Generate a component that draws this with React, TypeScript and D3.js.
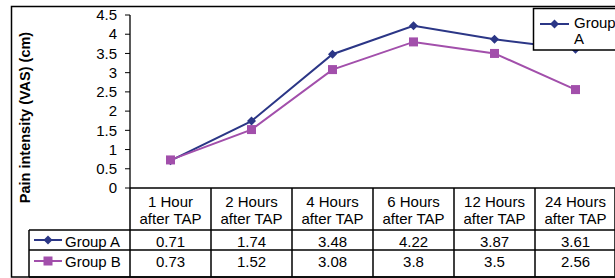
import React from 'react';
import * as d3 from 'd3';

const categories = ['1 Hour|after TAP', '2 Hours|after TAP', '4 Hours|after TAP', '6 Hours|after TAP', '12 Hours|after TAP', '24 Hours|after TAP'];
const groupA = [0.71, 1.74, 3.48, 4.22, 3.87, 3.61];
const groupB = [0.73, 1.52, 3.08, 3.8, 3.5, 2.56];
const groupALabels = ['0.71', '1.74', '3.48', '4.22', '3.87', '3.61'];
const groupBLabels = ['0.73', '1.52', '3.08', '3.8', '3.5', '2.56'];
const yTicks = [0, 0.5, 1, 1.5, 2, 2.5, 3, 3.5, 4, 4.5];

const colorA = '#2B3686';
const colorB = '#A24FAB';
const font = 'Liberation Sans, Arial, sans-serif';
const fs = 15;

const series = [
  { name: 'Group A', values: groupA, labels: groupALabels, color: colorA, shape: 'diamond' },
  { name: 'Group B', values: groupB, labels: groupBLabels, color: colorB, shape: 'square' },
];

function Marker({ x, y, shape, color }: { x: number; y: number; shape: string; color: string }) {
  if (shape === 'diamond') {
    const s = 4.5;
    return <path d={`M${x},${y - s}L${x + s},${y}L${x},${y + s}L${x - s},${y}Z`} fill={color} />;
  }
  return <rect x={x - 4.5} y={y - 4.5} width={9} height={9} fill={color} />;
}

export default function App() {
  const W = 615;
  const H = 278;
  const left = 130;
  const right = 616;
  const top = 15;
  const axisY = 188;
  const headerBottom = 230;
  const rowA = 250;
  const rowB = 277;
  const labelLeft = 29;

  const x = d3.scaleBand().domain(categories).range([left, right]).padding(0);
  const y = d3.scaleLinear().domain([0, 4.5]).range([axisY, top]);
  const cx = (c: string) => (x(c) || 0) + x.bandwidth() / 2;

  const line = d3
    .line<number>()
    .x((_, i) => cx(categories[i]))
    .y((d) => y(d));

  return (
    <svg width={W} height={H} style={{ position: 'absolute', left: 0, top: 0 }} fontFamily={font}>
      <rect x={0} y={0} width={W} height={H} fill="#fff" />
      <rect x={11.5} y={6.5} width={620} height={270.5} fill="none" stroke="#000" strokeWidth={1.5} />

      {/* y axis */}
      <line x1={left} x2={left} y1={top} y2={axisY} stroke="#000" strokeWidth={1.3} />
      {yTicks.map((t) => (
        <g key={t}>
          <line x1={left - 5} x2={left} y1={y(t)} y2={y(t)} stroke="#000" strokeWidth={1} />
          <text x={117} y={y(t)} dy="0.35em" textAnchor="end" fontSize={fs}>
            {t}
          </text>
        </g>
      ))}
      <text
        transform="translate(30,117.5) rotate(-90)"
        textAnchor="middle"
        fontSize={14.5}
        fontWeight="bold"
      >
        Pain intensity (VAS) (cm)
      </text>

      {/* series lines */}
      {series.map((s) => (
        <g key={s.name}>
          <path d={line(s.values) || ''} fill="none" stroke={s.color} strokeWidth={2} />
          {s.values.map((v, i) => (
            <Marker key={i} x={cx(categories[i])} y={y(v)} shape={s.shape} color={s.color} />
          ))}
        </g>
      ))}

      {/* data table */}
      <g stroke="#000" strokeWidth={1.5}>
        <line x1={left} x2={right} y1={axisY} y2={axisY} />
        <line x1={labelLeft} x2={right} y1={headerBottom} y2={headerBottom} />
        <line x1={labelLeft} x2={right} y1={rowA} y2={rowA} />
        <line x1={labelLeft} x2={right} y1={rowB} y2={rowB} />
        <line x1={labelLeft} x2={labelLeft} y1={headerBottom} y2={rowB} />
        {categories.map((c) => (
          <line key={c} x1={x(c) || 0} x2={x(c) || 0} y1={axisY} y2={rowB} />
        ))}
        <line x1={right - 1} x2={right - 1} y1={axisY} y2={rowB} />
      </g>
      {categories.map((c) => {
        const [l1, l2] = c.split('|');
        return (
          <text key={c} x={cx(c)} textAnchor="middle" fontSize={fs}>
            <tspan x={cx(c)} y={207}>{l1}</tspan>
            <tspan x={cx(c)} y={223.5}>{l2}</tspan>
          </text>
        );
      })}
      {series.map((s, r) => {
        const ty = r === 0 ? 247 : 267;
        const my = r === 0 ? 240 : 261;
        return (
          <g key={s.name}>
            <line x1={34} x2={62} y1={my} y2={my} stroke={s.color} strokeWidth={2} />
            <Marker x={48} y={my} shape={s.shape} color={s.color} />
            <text x={65} y={ty} fontSize={fs}>{s.name}</text>
            {s.labels.map((lab, i) => (
              <text key={i} x={cx(categories[i])} y={ty} textAnchor="middle" fontSize={fs}>
                {lab}
              </text>
            ))}
          </g>
        );
      })}

      {/* legend */}
      <rect x={533.5} y={8.5} width={90} height={41.5} fill="#fff" stroke="#000" strokeWidth={1.5} />
      <line x1={540} x2={569} y1={24} y2={24} stroke={colorA} strokeWidth={2} />
      <Marker x={554.5} y={24} shape="diamond" color={colorA} />
      <text x={574} y={28} fontSize={fs}>Group</text>
      <text x={574} y={44} fontSize={fs}>A</text>
    </svg>
  );
}
